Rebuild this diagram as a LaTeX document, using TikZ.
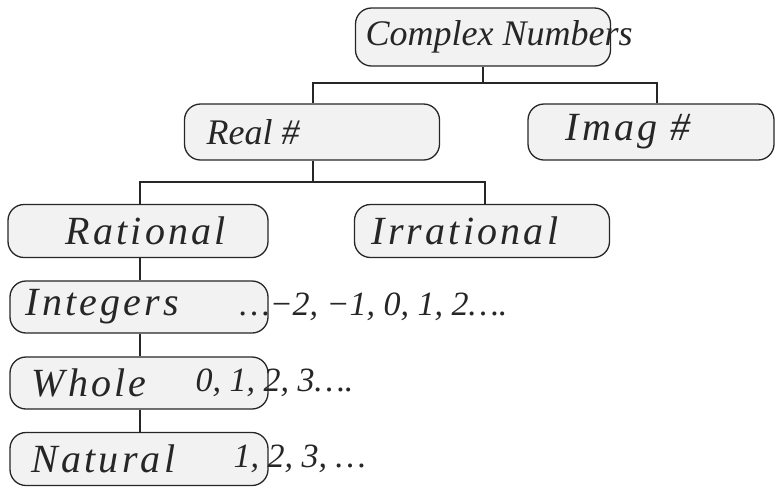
\documentclass[tikz,border=0pt]{standalone}
\usepackage{fontspec}
\setmainfont{Liberation Serif}
\newfontfamily\handwide[LetterSpace=8]{Liberation Serif}
\begin{document}
\begin{tikzpicture}[x=1pt,y=-1pt,
  box/.style={draw=black!85, line width=1.3pt, rounded corners=16pt, fill=gray!10,
    inner sep=0pt, anchor=center},
  lbl/.style={font=\handwide\fontsize{40}{46}\selectfont\itshape, text=black!85},
  lblplain/.style={font=\fontsize{36}{42}\selectfont\itshape, text=black!85},
  nums/.style={font=\fontsize{34}{40}\selectfont\itshape, text=black!85},
  conn/.style={draw=black!85, line width=1.1pt}]
\useasboundingbox (0,0) rectangle (776,491);
% boxes
\node[box, minimum width=255pt, minimum height=58pt] (cn) at (483,37) {};
\node[box, minimum width=255pt, minimum height=56pt] (real) at (312,132) {};
\node[box, minimum width=246pt, minimum height=56pt] (imag) at (651,132) {};
\node[box, minimum width=260pt, minimum height=53pt] (rat) at (138,231) {};
\node[box, minimum width=255pt, minimum height=53pt] (irr) at (482,231) {};
\node[box, minimum width=258pt, minimum height=52pt] (int) at (139,307) {};
\node[box, minimum width=258pt, minimum height=52pt] (whole) at (139,383) {};
\node[box, minimum width=258pt, minimum height=53pt] (nat) at (139,459) {};
% labels
\node[lblplain, anchor=west] (tcn) at (362,37) {Complex Numbers};
\node[lblplain, anchor=west] (treal) at (203,132) {Real \#};
\node[lbl, anchor=west] (timag) at (562,132) {Imag \#};
\node[lbl, anchor=west] (trat) at (62,231) {Rational};
\node[lbl, anchor=west] (tirr) at (368,231) {Irrational};
\node[lbl, anchor=west] (tint) at (22,307) {Integers};
\node[nums, anchor=west] (tintx) at (236,307) {…−2, −1, 0, 1, 2….};
\node[lbl, anchor=west] (twh) at (28,383) {Whole};
\node[nums, anchor=west] (twhx) at (192,383) {0, 1, 2, 3….};
\node[lbl, anchor=west] (tnat) at (28,459) {Natural};
\node[nums, anchor=west] (tnatx) at (230,459) {1, 2, 3, …};
% connectors
\coordinate (j1) at (483,83);
\coordinate (j2) at (313,182);
\draw[conn] (cn.south) -- (j1);
\draw[conn] (j1) -| ([xshift=1pt]real.north);
\draw[conn] (j1) -| ([xshift=6pt]imag.north);
\draw[conn] ([xshift=1pt]real.south) -- (j2);
\draw[conn] (j2) -| ([xshift=2pt]rat.north);
\draw[conn] (j2) -| ([xshift=3pt]irr.north);
\draw[conn] ([xshift=2pt]rat.south) -- ([xshift=1pt]int.north);
\draw[conn] ([xshift=1pt]int.south) -- ([xshift=1pt]whole.north);
\draw[conn] ([xshift=1pt]whole.south) -- ([xshift=1pt]nat.north);
\end{tikzpicture}
\end{document}
